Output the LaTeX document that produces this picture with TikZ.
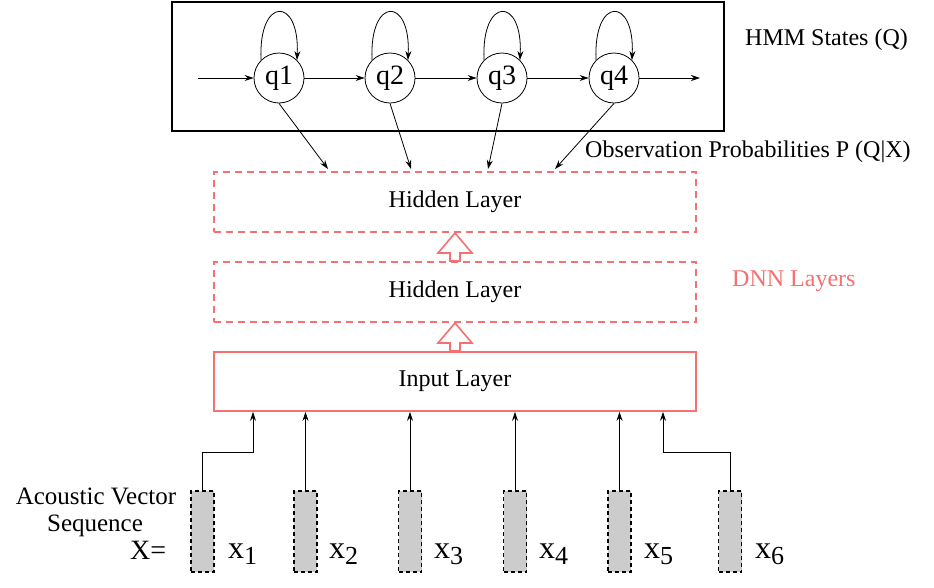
\documentclass[tikz,border=0pt]{standalone}
\usepackage{fontspec}
\setmainfont{Liberation Serif}
\usetikzlibrary{arrows.meta}
\definecolor{dnnred}{RGB}{245,112,112}
\definecolor{vecgray}{RGB}{204,204,204}
\newcommand{\fsz}[1]{\fontsize{#1}{#1}\selectfont}
\begin{document}
\begin{tikzpicture}[x=1pt,y=-1pt,
  hmmbox/.style={draw,line width=2pt},
  state/.style={circle,draw,line width=0.8pt,minimum size=50pt,inner sep=0pt,font=\fsz{28}},
  hidlayer/.style={draw=dnnred,dash pattern=on 7pt off 5pt,line width=1.5pt,minimum width=482pt,minimum height=60pt,inner sep=0pt,font=\fsz{24}},
  inlayer/.style={draw=dnnred,line width=1.6pt,minimum width=482pt,minimum height=59pt,inner sep=0pt,font=\fsz{24}},
  vecbox/.style={draw,fill=vecgray,dash pattern=on 4pt off 3pt,line width=1.2pt,minimum width=23pt,minimum height=81pt,inner sep=0pt},
  lbl/.style={inner sep=0pt,font=\fsz{24}},
  conn/.style={-{Stealth[length=9pt,width=6pt]},line width=0.8pt},
  hollow/.style={draw=dnnred,fill=white,line width=1.6pt,line join=miter}
]
\useasboundingbox (0,0) rectangle (934,587);

% HMM box
\node[hmmbox,minimum width=552pt,minimum height=129pt,inner sep=0pt] (hmm) at (448,66.5) {};
\node[state] (q1) at (279,78) {q1};
\node[state] (q2) at (390,78) {q2};
\node[state] (q3) at (502,78) {q3};
\node[state] (q4) at (614,78) {q4};
\coordinate (in) at (198,78);
\coordinate (out) at (700,78);
\draw[conn] (in) -- (q1);
\draw[conn] (q1) -- (q2);
\draw[conn] (q2) -- (q3);
\draw[conn] (q3) -- (q4);
\draw[conn] (q4) -- (out);
\foreach \q in {q1,q2,q3,q4}{
  \draw[conn] (\q.135) .. controls +(-3,-64) and +(3,-64) .. (\q.45);
}

\node[lbl,anchor=west] (hmmlbl) at (745,40) {HMM States (Q)};
\node[lbl,anchor=west] (obs) at (585,152) {Observation Probabilities P (Q|X)};

% DNN layers
\node[hidlayer] (h1) at (455,202) {Hidden Layer};
\node[hidlayer] (h2) at (455,292) {Hidden Layer};
\node[inlayer] (inp) at (455,381.5) {Input Layer};
\node[lbl,text=dnnred,anchor=west] (dnn) at (732,281) {DNN Layers};

% observation arrows
\coordinate (t1) at (328,169);
\coordinate (t2) at (411,169);
\coordinate (t3) at (488,169);
\coordinate (t4) at (555,169);
\draw[conn] (q1.south) -- (t1);
\draw[conn] (q2.south) -- (t2);
\draw[conn] (q3.south) -- (t3);
\draw[conn] (q4.south) -- (t4);

% hollow arrows
\draw[hollow] (455,233) -- (472,253) -- (460,253) -- (460,261) -- (450,261) -- (450,253) -- (438,253) -- cycle;
\draw[hollow] (455,323) -- (472,343) -- (460,343) -- (460,351) -- (450,351) -- (450,343) -- (438,343) -- cycle;

% vectors
\node[vecbox] (v1) at (202.5,531.5) {};
\node[vecbox] (v2) at (305.5,531.5) {};
\node[vecbox] (v3) at (410,531.5) {};
\node[vecbox] (v4) at (515,531.5) {};
\node[vecbox] (v5) at (619.5,531.5) {};
\node[vecbox] (v6) at (730,531.5) {};

\coordinate (e1) at (inp.south -| 253,0);
\coordinate (e6) at (inp.south -| 663,0);
\draw[conn] (v1.north) |- (253,452) -- (e1);
\draw[conn] (v2.north) -- (v2.north |- inp.south);
\draw[conn] (v3.north) -- (v3.north |- inp.south);
\draw[conn] (v4.north) -- (v4.north |- inp.south);
\draw[conn] (v5.north) -- (v5.north |- inp.south);
\draw[conn] (v6.north) |- (663,452) -- (e6);

% labels
\foreach \i/\xx in {1/228,2/329,3/434,4/539,5/644,6/755}{
  \node[inner sep=0pt,anchor=base west,font=\fsz{32}] (xl\i) at (\xx,558) {x\raisebox{-6pt}{\fsz{26}\i}};
}
\node[inner sep=0pt,anchor=base west,font=\fsz{28}] (X) at (130,559) {X=};
\node[lbl,font=\fsz{25}] (av) at (96,496) {Acoustic Vector};
\node[lbl,font=\fsz{25}] (sq) at (95,526) {Sequence};
\end{tikzpicture}
\end{document}
